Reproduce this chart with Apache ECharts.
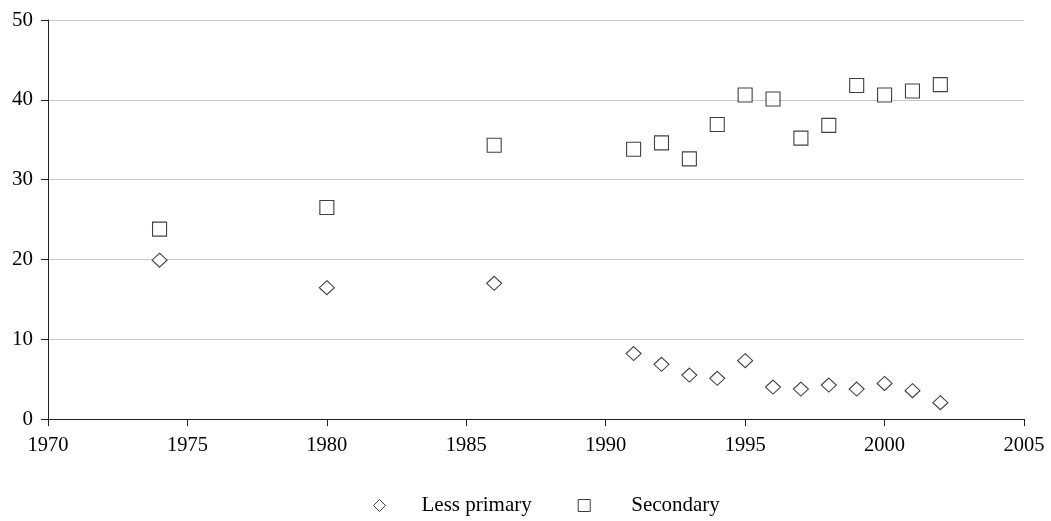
<!DOCTYPE html>
<html>
<head>
<meta charset="utf-8">
<script src="https://cdn.jsdelivr.net/npm/echarts@6/dist/echarts.min.js"></script>
<style>html,body{margin:0;padding:0;background:#fff}#c{width:1051px;height:521px}</style>
</head>
<body>
<div id="c"></div>
<script>
const years = [1974, 1980, 1986, 1991, 1992, 1993, 1994, 1995, 1996, 1997, 1998, 1999, 2000, 2001, 2002];
const lessPrimary = [19.9, 16.45, 17.0, 8.2, 6.85, 5.5, 5.1, 7.3, 4.0, 3.75, 4.25, 3.75, 4.45, 3.55, 2.05];
const secondary = [23.8, 26.5, 34.3, 33.8, 34.6, 32.6, 36.9, 40.6, 40.1, 35.2, 36.8, 41.8, 40.6, 41.1, 41.9];
const seriesNames = ['Less primary', 'Secondary'];

const font = 'Liberation Serif, Times New Roman, serif';
const chart = echarts.init(document.getElementById('c'), null, {renderer: 'canvas'});
const pair = (xs, ys) => xs.map((x, i) => [x, ys[i]]);
const mark = {color: '#ffffff', borderColor: '#111', borderWidth: 1.1};
chart.setOption({
  animation: false,
  backgroundColor: '#fff',
  grid: {left: 48, right: 27, top: 20, bottom: 102, containLabel: false},
  xAxis: {
    type: 'value', min: 1970, max: 2005, interval: 5,
    axisLine: {show: true, lineStyle: {color: '#222', width: 1}},
    axisTick: {show: true, length: 7, lineStyle: {color: '#222'}},
    axisLabel: {color: '#000', fontFamily: font, fontSize: 20.5, margin: 16,
                formatter: v => String(v)},
    splitLine: {show: false}
  },
  yAxis: {
    type: 'value', min: 0, max: 50, interval: 10,
    axisLine: {show: true, lineStyle: {color: '#222', width: 1}},
    axisTick: {show: true, length: 7, lineStyle: {color: '#222'}},
    axisLabel: {color: '#000', fontFamily: font, fontSize: 21, margin: 15},
    splitLine: {show: true, lineStyle: {color: '#c8c8c8', width: 1}}
  },
  legend: {
    top: 490, left: 368, itemWidth: 12, itemHeight: 12, itemGap: 46,
    itemStyle: {color: '#fff', borderColor: '#111', borderWidth: 1},
    data: [
      {name: seriesNames[0], icon: 'diamond',
       textStyle: {padding: [0, 0, 0, 31]}},
      {name: seriesNames[1], icon: 'rect',
       textStyle: {padding: [0, 0, 0, 36]}}
    ],
    textStyle: {color: '#000', fontFamily: font, fontSize: 21}
  },
  series: [
    {name: seriesNames[0], type: 'scatter', symbol: 'diamond', symbolSize: [15, 14],
     itemStyle: mark, data: pair(years, lessPrimary)},
    {name: seriesNames[1], type: 'scatter', symbol: 'rect', symbolSize: 14,
     itemStyle: mark, data: pair(years, secondary)}
  ]
});
</script>
</body>
</html>
